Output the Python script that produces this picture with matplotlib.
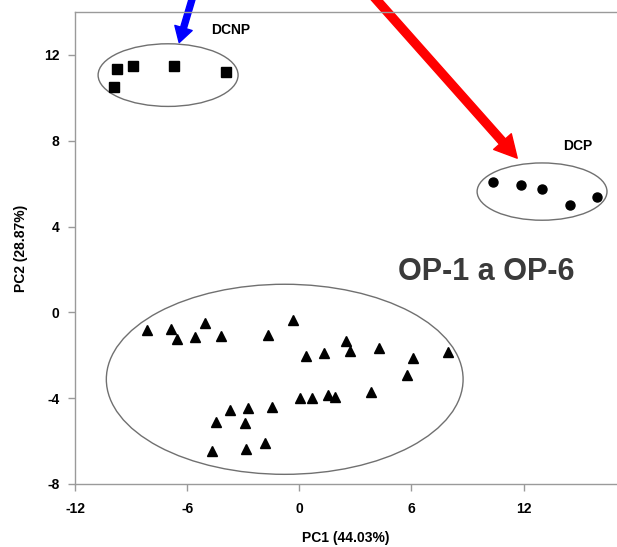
import matplotlib
matplotlib.use('Agg')
import matplotlib.pyplot as plt
from matplotlib.patches import Ellipse, FancyArrowPatch

plt.rcParams['font.family'] = ['Liberation Sans', 'DejaVu Sans']
plt.rcParams['axes.unicode_minus'] = False

# DCNP group (squares)
dcnp_x = [-9.73, -8.88, -6.68, -3.90, -9.89]
dcnp_y = [11.33, 11.47, 11.47, 11.19, 10.49]

# DCP group (circles)
dcp_x = [10.37, 11.87, 12.99, 14.49, 15.94]
dcp_y = [6.06, 5.92, 5.73, 4.99, 5.36]

# OP-1 a OP-6 group (triangles)
op_x = [-8.13, -6.84, -6.52, -5.03, -5.60, -4.17, -1.67, -0.34, 0.03,
        -3.73, -2.73, -1.46, -4.44, -2.89, -4.67, -2.83, -1.82, 0.37,
        1.30, 2.50, 2.71, 4.24, 6.10, 7.95, 5.78, 3.85, 0.70, 1.53, 1.89]
op_y = [-0.84, -0.79, -1.23, -0.48, -1.15, -1.10, -1.04, -0.34, -4.01,
        -4.54, -4.44, -4.41, -5.11, -5.16, -6.48, -6.39, -6.09, -2.05,
        -1.90, -1.34, -1.82, -1.65, -2.13, -1.86, -2.94, -3.72, -3.98,
        -3.84, -3.95]

# group ellipses: center x, center y, width, height
ell_dcnp = (-7.02, 11.06, 7.49, 2.92)
ell_dcp = (12.99, 5.63, 6.95, 2.67)
ell_op = (-0.78, -3.12, 19.09, 8.86)

x_ticks = [-12, -6, 0, 6, 12]
y_ticks = [-8, -4, 0, 4, 8, 12]

fig = plt.figure(figsize=(6.17, 5.47), dpi=100)
ax = fig.add_axes([0.1216, 0.1152, 0.8784, 0.8628])
ax.set_xlim(-12, 17)
ax.set_ylim(-8, 14)

gray = '#9a9a9a'
for name, sp in ax.spines.items():
    sp.set_color(gray)
    sp.set_linewidth(1.0)
ax.spines['right'].set_visible(False)

ax.set_xticks(x_ticks)
ax.set_yticks(y_ticks)
ax.tick_params(direction='out', length=5, width=1, color=gray,
               labelsize=10, pad=6)
for lab in ax.get_xticklabels() + ax.get_yticklabels():
    lab.set_fontweight('bold')
ax.tick_params(axis='x', pad=8)

for (cx, cy, w, h) in (ell_dcnp, ell_dcp, ell_op):
    ax.add_patch(Ellipse((cx, cy), w, h, facecolor='none',
                         edgecolor='#707070', lw=1.0))

ax.plot(dcnp_x, dcnp_y, 's', color='black', markersize=7.5)
ax.plot(dcp_x, dcp_y, 'o', color='black', markersize=6.5)
ax.plot(op_x, op_y, '^', color='black', markersize=7.5)

ax.text(-3.66, 13.15, 'DCNP', fontsize=10, fontweight='bold',
        ha='center', va='center')
ax.text(14.90, 7.75, 'DCP', fontsize=10, fontweight='bold',
        ha='center', va='center')
ax.text(10.0, 1.86, 'OP-1 a OP-6', fontsize=22, fontweight='bold',
        color='#3a3a3a', ha='center', va='center')

ax.set_xlabel('PC1 (44.03%)', fontsize=10, fontweight='bold', labelpad=11)
ax.set_ylabel('PC2 (28.87%)', fontsize=10, fontweight='bold', labelpad=12)

# arrows pointing to groups (start outside the plot area)
blue = FancyArrowPatch((-5.67, 14.8), (-6.47, 12.45),
                       arrowstyle='simple,head_length=11,head_width=13,tail_width=4.3',
                       mutation_scale=1, color='#0000ff', clip_on=False)
red = FancyArrowPatch((3.90, 14.8), (11.76, 7.09),
                      arrowstyle='simple,head_length=16,head_width=17,tail_width=5.8',
                      mutation_scale=1, color='#ff0000', clip_on=False)
ax.add_patch(blue)
ax.add_patch(red)

fig.savefig('out.png', dpi=100)
